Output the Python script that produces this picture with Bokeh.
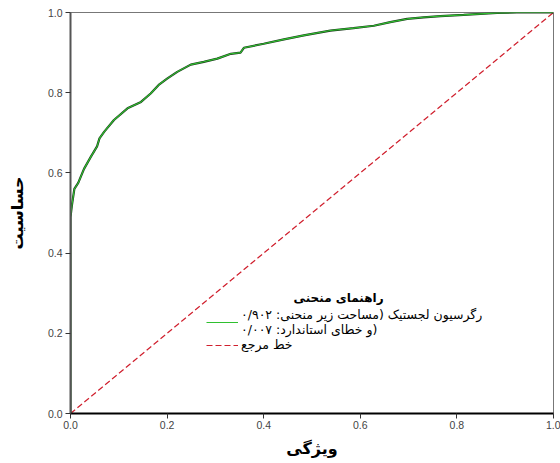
from bokeh.plotting import figure
from bokeh.models import Legend, LegendItem, Label, FixedTicker, CustomJSTickFormatter, Range1d
from bokeh.embed import file_html
from bokeh.resources import INLINE

# ROC data (1 - specificity, sensitivity)
fpr = [0.0, 0.0, 0.003, 0.008, 0.016, 0.028, 0.042, 0.055, 0.06, 0.07, 0.09, 0.118,
       0.146, 0.166, 0.184, 0.20, 0.221, 0.249, 0.276, 0.304, 0.332, 0.352, 0.359,
       0.40, 0.442, 0.483, 0.538, 0.586, 0.628, 0.662, 0.697, 0.731, 0.766, 0.814,
       0.883, 0.924, 1.0]
tpr = [0.0, 0.49, 0.52, 0.56, 0.575, 0.61, 0.64, 0.666, 0.686, 0.703, 0.732, 0.761,
       0.777, 0.798, 0.821, 0.835, 0.852, 0.87, 0.877, 0.885, 0.897, 0.90, 0.912,
       0.922, 0.933, 0.943, 0.955, 0.961, 0.967, 0.976, 0.984, 0.988, 0.991, 0.994,
       0.999, 1.0, 1.0]
ref_x = [0.0, 1.0]
ref_y = [0.0, 1.0]
ticks = [0.0, 0.2, 0.4, 0.6, 0.8, 1.0]

x_title = "ویژگی"
y_title = "حساسیت"
legend_title = "راهنمای منحنی"
label_model = "رگرسیون لجستیک (مساحت زیر منحنی: ۰/۹۰۲\nو خطای استاندارد: ۰/۰۰۷)"
label_ref = "خط مرجع"

FA = "DejaVu Sans"

p = figure(width=560, height=463, x_range=Range1d(0, 1), y_range=Range1d(0, 1),
           output_backend="svg", toolbar_location=None,
           min_border_left=70, min_border_right=7, min_border_top=12, min_border_bottom=50)
p.background_fill_color = "white"
p.border_fill_color = "white"
p.outline_line_color = "#777777"
p.outline_line_width = 1
p.grid.visible = False

for ax in (p.xaxis[0], p.yaxis[0]):
    ax.ticker = FixedTicker(ticks=ticks)
    ax.formatter = CustomJSTickFormatter(code="return tick.toFixed(1);")
    ax.major_label_text_font = "Liberation Sans"
    ax.major_label_text_font_size = "10.5px"
    ax.major_label_text_color = "#444444"
    ax.minor_tick_line_color = None
    ax.major_tick_in = 0
    ax.major_tick_out = 5
    ax.major_tick_line_color = "#333333"
    ax.axis_line_width = 2
    ax.axis_label_text_font = FA
    ax.axis_label_text_font_style = "bold"
    ax.axis_label_text_font_size = "16px"
    ax.axis_label_text_color = "black"

p.xaxis.axis_line_color = "black"
p.yaxis.axis_line_color = "#555555"
p.xaxis.axis_label = x_title
p.yaxis.axis_label = y_title
p.xaxis.major_label_standoff = 2
p.xaxis.axis_label_standoff = 7
p.yaxis.major_label_standoff = 3
p.yaxis.axis_label_standoff = 18

r_ref = p.line(ref_x, ref_y, line_color="#d0202e", line_width=1.2, line_dash="6 3")
r_shadow = p.line(fpr, tpr, line_color="#1e3a1e", line_width=2.2)
r_model = p.line(fpr, tpr, line_color="#2fc02f", line_width=1.1)

legend = Legend(items=[LegendItem(label=label_model, renderers=[r_model]),
                       LegendItem(label=label_ref, renderers=[r_ref])],
                location=(136, 61))
legend.border_line_color = None
legend.background_fill_alpha = 0
legend.label_text_font = FA
legend.label_text_font_size = "12.5px"
legend.label_text_color = "black"
legend.glyph_width = 32
legend.glyph_height = 14
legend.spacing = 0
legend.padding = 2
legend.margin = 0
legend.label_standoff = 3
legend.label_height = 14
p.add_layout(legend, "center")

title = Label(x=0.555, y=0.289, text=legend_title, text_font=FA,
              text_font_style="bold", text_font_size="12px", text_align="center",
              text_baseline="middle", text_color="black")
p.add_layout(title)

open("out.html", "w").write(file_html(p, INLINE))
